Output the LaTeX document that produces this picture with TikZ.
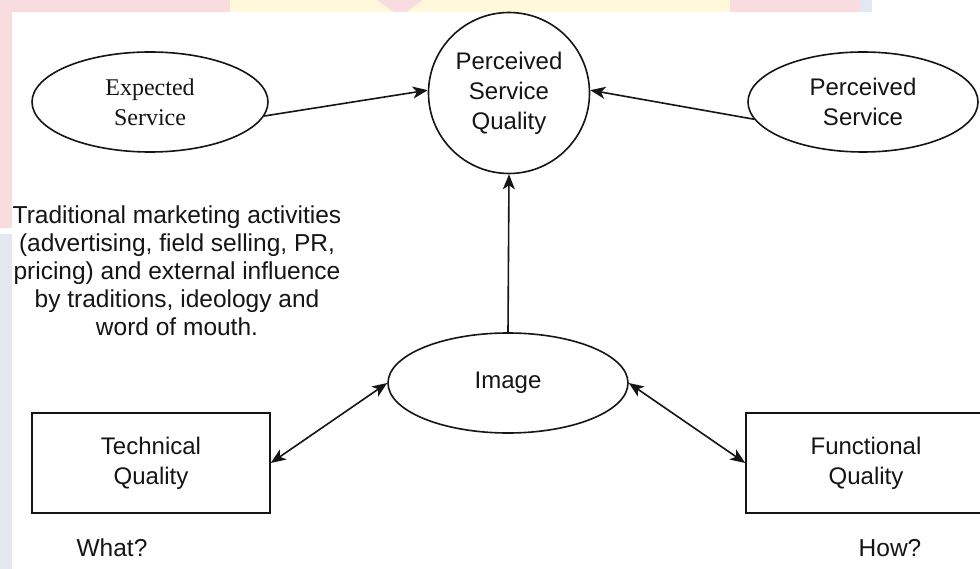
\documentclass[tikz,border=0pt]{standalone}
\usepackage{fontspec}
\setmainfont{Liberation Sans}
\newfontfamily\timesfont{Liberation Serif}
\usetikzlibrary{shapes.geometric,arrows.meta}
\definecolor{wpink}{HTML}{F8DCDF}
\definecolor{wyellow}{HTML}{FFF8DA}
\definecolor{wlav}{HTML}{E5E7F0}
\definecolor{ink}{HTML}{151515}
\tikzset{
  shp/.style={draw=ink, line width=1.6pt, fill=white, align=center, text=ink,
    font=\fontsize{24}{30}\selectfont, inner sep=0pt},
  ell/.style={shp, ellipse},
  circ/.style={shp, circle},
  box/.style={shp, rectangle},
  tip/.style={Stealth[length=15pt,width=12pt,inset=4pt]},
  arr/.style={draw=ink, line width=1.6pt, -{Stealth[length=15pt,width=12pt,inset=4pt]}},
  darr/.style={draw=ink, line width=1.6pt, {Stealth[length=15pt,width=12pt,inset=4pt]}-{Stealth[length=15pt,width=12pt,inset=4pt]}},
  lbl/.style={text=ink, align=center, font=\fontsize{24.5}{28}\selectfont, inner sep=0pt}
}
\begin{document}
\begin{tikzpicture}[x=1pt,y=-1pt]
\useasboundingbox (0,0) rectangle (980,569);
\fill[white] (0,0) rectangle (980,569);
% background watermark strips
\fill[wpink] (0,0) rectangle (230,12);
\fill[wyellow] (230,0) rectangle (730,12);
\fill[wpink] (377,0) -- (423,0) -- (406,12) -- (394,12) -- cycle;
\fill[wpink] (730,0) rectangle (860,12);
\fill[wlav] (860,0) rectangle (872,12);
\fill[wpink] (0,12) rectangle (12,228);
\fill[wlav] (0,234) rectangle (12,569);
% nodes
\node[ell, minimum width=236pt, minimum height=100pt, font=\timesfont\fontsize{24}{30}\selectfont] (es) at (150,102) {Expected\\Service};
\node[circ, minimum size=161pt] (psq) at (509,93) {Perceived\\Service\\Quality};
\node[ell, minimum width=230pt, minimum height=100pt] (ps) at (863,102) {Perceived\\Service};
\node[ell, minimum width=240pt, minimum height=100pt] (img) at (508,383) {Image};
\node[box, minimum width=238pt, minimum height=100pt] (tq) at (151,463) {Technical\\Quality};
\node[box, minimum width=240pt, minimum height=100pt] (fq) at (866,463) {Functional\\Quality};
\node[lbl] (txt) at (177,271) {Traditional marketing activities\\(advertising, field selling, PR,\\pricing) and external influence\\by traditions, ideology and\\word of mouth.};
\node[lbl] (what) at (112,548) {What?};
\node[lbl] (how) at (890,548) {How?};
% connectors
\draw[arr] (es.-7) -- (psq.178);
\draw[arr] (ps.189) -- (psq.2);
\draw[arr] (img.north) -- (psq.south);
\draw[darr] (img.west) -- (tq.east);
\draw[darr] (img.east) -- (fq.west);
\end{tikzpicture}
\end{document}
